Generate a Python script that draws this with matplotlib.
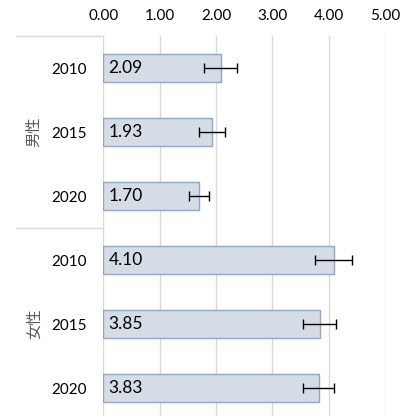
import numpy as np
import matplotlib.pyplot as plt
from matplotlib.lines import Line2D

plt.rcParams['font.family'] = ['Lato', 'Noto Sans CJK JP', 'DejaVu Sans']

# データ
groups = ['男性', '女性']
years = ['2010', '2015', '2020', '2010', '2015', '2020']
values = [2.09, 1.93, 1.70, 4.10, 3.85, 3.83]
err_lo = [0.30, 0.23, 0.18, 0.34, 0.30, 0.28]
err_hi = [0.29, 0.23, 0.17, 0.32, 0.28, 0.26]

fig = plt.figure(figsize=(4.06, 4.16), dpi=100)
ax = fig.add_axes([103.5 / 406, 0, 281.5 / 406, 380 / 416])

pos = np.arange(len(values))
ax.barh(pos, values, height=0.44, color='#D6DCE5', edgecolor='#8FA6C4', linewidth=1, zorder=2)
ax.errorbar(values, pos, xerr=[err_lo, err_hi], fmt='none', ecolor='black',
            elinewidth=1, capsize=3.5, capthick=1, zorder=3)

for p, v in zip(pos, values):
    ax.text(0.09, p, f'{v:.2f}', va='center', ha='left', fontsize=12.5, color='black', zorder=4)

ax.set_xlim(0, 5)
ax.set_ylim(5.4375, -0.5)
ax.xaxis.tick_top()
ax.set_xticks(np.arange(0, 6))
ax.set_xticklabels([f'{x:.2f}' for x in range(6)], fontsize=11)
ax.set_yticks(pos)
ax.set_yticklabels(years, fontsize=11)
ax.tick_params(length=0, pad=12)
ax.tick_params(axis='x', pad=9)
ax.grid(axis='x', color='#D9D9D9', linewidth=1, zorder=0)
for s in ax.spines.values():
    s.set_visible(False)

# グループラベル
tr = ax.get_yaxis_transform()
for i, g in enumerate(groups):
    ax.text(-0.245, i * 3 + 1, g, rotation=90, va='center', ha='center',
            fontsize=11, color='#595959', transform=tr, clip_on=False)

# 区切り線
for y in [-0.5, 2.5]:
    ax.add_line(Line2D([-0.31, 0], [y, y], transform=tr, color='#D9D9D9',
                       linewidth=1, clip_on=False))

fig.savefig('out.png', dpi=100)
